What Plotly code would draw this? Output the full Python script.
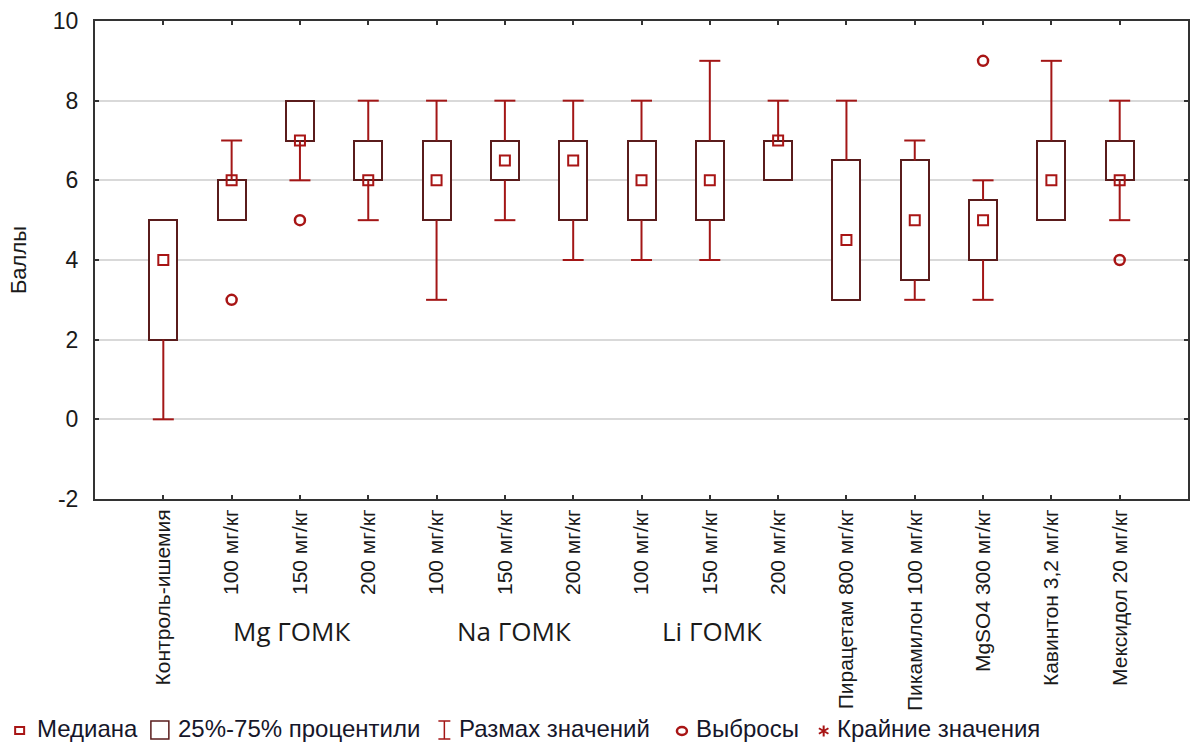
import plotly.graph_objects as go

# Groups on the x axis
categories = [
    "Контроль-ишемия",
    "100 мг/кг", "150 мг/кг", "200 мг/кг",
    "100 мг/кг", "150 мг/кг", "200 мг/кг",
    "100 мг/кг", "150 мг/кг", "200 мг/кг",
    "Пирацетам 800 мг/кг",
    "Пикамилон 100 мг/кг",
    "MgSO4 300 мг/кг",
    "Кавинтон 3,2 мг/кг",
    "Мексидол 20 мг/кг",
]
group_labels = ["Mg ГОМК", "Na ГОМК", "Li ГОМК"]
group_label_x = [1.88, 5.14, 8.03]

y_tickvals = [-2, 0, 2, 4, 6, 8, 10]
y_ticktext = ["-2", "0", "2", "4", "6", "8", "10"]

# Box statistics (scores)
q1 = [2, 5, 7, 6, 5, 6, 5, 5, 5, 6, 3, 3.5, 4, 5, 6]
median = [4, 6, 7, 6, 6, 6.5, 6.5, 6, 6, 7, 4.5, 5, 5, 6, 6]
q3 = [5, 6, 8, 7, 7, 7, 7, 7, 7, 7, 6.5, 6.5, 5.5, 7, 7]
range_min = [0, 5, 6, 5, 3, 5, 4, 4, 4, 6, 3, 3, 3, 5, 5]
range_max = [5, 7, 8, 8, 8, 8, 8, 8, 9, 8, 8, 7, 6, 9, 8]

# Outliers
outlier_x = [1, 2, 12, 14]
outlier_y = [3, 5, 9, 4]

WHISKER = "#a31616"
BOX = "#5a1c1c"
MARK = "#a81515"
TEXT = "#1a1a1a"
FONT = "Liberation Sans, Arial, sans-serif"

xs = list(range(len(categories)))

# Whisker segments and their end caps
wx, wy, cx, cy = [], [], [], []
for i in xs:
    if range_max[i] > q3[i]:
        wx += [i, i, None]
        wy += [q3[i], range_max[i], None]
        cx.append(i)
        cy.append(range_max[i])
    if range_min[i] < q1[i]:
        wx += [i, i, None]
        wy += [q1[i], range_min[i], None]
        cx.append(i)
        cy.append(range_min[i])

fig = go.Figure()

fig.add_trace(go.Scatter(
    x=wx, y=wy, mode="lines",
    line=dict(color=WHISKER, width=2),
    hoverinfo="skip", showlegend=False,
))
fig.add_trace(go.Scatter(
    x=cx, y=cy, mode="markers",
    marker=dict(symbol="line-ew", size=15, line=dict(color=WHISKER, width=2)),
    hoverinfo="skip", showlegend=False,
))
fig.add_trace(go.Bar(
    x=xs, y=[b - a for a, b in zip(q1, q3)], base=q1,
    width=0.41,
    marker=dict(color="rgba(255,255,255,1)", line=dict(color=BOX, width=2)),
    showlegend=False,
))
fig.add_trace(go.Scatter(
    x=xs, y=median, mode="markers",
    marker=dict(symbol="square-open", size=10, color=MARK, line=dict(width=2)),
    showlegend=False,
))
fig.add_trace(go.Scatter(
    x=outlier_x, y=outlier_y, mode="markers",
    marker=dict(symbol="circle-open", size=10, color=MARK, line=dict(width=2.5)),
    showlegend=False,
))

W, H = 1192, 743
L, R, T, B = 95, 2, 21, 244
pw, ph = W - L - R, H - T - B


def px(x):
    return (x - L) / pw


def py(y):
    return (H - B - y) / ph


annotations = []
for lbl, gx in zip(group_labels, group_label_x):
    annotations.append(dict(
        x=gx, y=py(631), xref="x", yref="paper", text=lbl, showarrow=False,
        xanchor="center", yanchor="middle",
        font=dict(family="Open Sans, Noto Sans, sans-serif", size=26, color=TEXT),
    ))

# Key along the bottom edge
legend_items = [(36, "Медиана"), (177, "25%-75% процентили"), (459, "Размах значений"),
                (696, "Выбросы"), (837, "Крайние значения")]
for lx, txt in legend_items:
    annotations.append(dict(
        x=px(lx), y=py(743), xref="paper", yref="paper", text=txt,
        showarrow=False, xanchor="left", yanchor="bottom", borderpad=0,
        font=dict(family=FONT, size=24, color="#16162a"),
    ))


def asterisk(cxp, cyp, r):
    segs = []
    for dx, dy in [(0, r), (r * 0.87, r * 0.5), (r * 0.87, -r * 0.5)]:
        segs.append(f"M {px(cxp - dx)},{py(cyp - dy)} L {px(cxp + dx)},{py(cyp + dy)}")
    return " ".join(segs)


shapes = [
    # median symbol
    dict(type="rect", xref="paper", yref="paper",
         x0=px(15), x1=px(24), y0=py(734), y1=py(727),
         line=dict(color=MARK, width=2)),
    # box symbol
    dict(type="rect", xref="paper", yref="paper",
         x0=px(151), x1=px(169), y0=py(739), y1=py(721),
         line=dict(color=BOX, width=1.5)),
    # range symbol
    dict(type="path", xref="paper", yref="paper",
         path=f"M {px(439)},{py(721)} L {px(451)},{py(721)} M {px(445)},{py(721)} "
              f"L {px(445)},{py(739)} M {px(439)},{py(739)} L {px(451)},{py(739)}",
         line=dict(color=WHISKER, width=1.5)),
    # outlier symbol
    dict(type="circle", xref="paper", yref="paper",
         x0=px(678), x1=px(688), y0=py(735), y1=py(727),
         line=dict(color=MARK, width=2.5)),
    # extreme-value symbol
    dict(type="path", xref="paper", yref="paper",
         path=asterisk(825, 731, 5.5),
         line=dict(color=MARK, width=2)),
]

fig.update_layout(
    width=W, height=H,
    margin=dict(l=L, r=R, t=T, b=B, pad=0),
    paper_bgcolor="white", plot_bgcolor="white",
    font=dict(family=FONT, size=20, color=TEXT),
    annotations=annotations,
    shapes=shapes,
    bargap=0,
)
fig.update_xaxes(
    range=[-1, 15],
    tickmode="array", tickvals=xs, ticktext=categories,
    tickangle=-90, tickfont=dict(family=FONT, size=21, color=TEXT),
    showgrid=False, zeroline=False,
    showline=True, linecolor="#333333", linewidth=2, mirror="ticks",
    ticks="inside", ticklen=4, tickcolor="#333333", tickwidth=1.5,
)
fig.update_yaxes(
    range=[-2, 10],
    tickmode="array", tickvals=y_tickvals, ticktext=y_ticktext,
    showgrid=True, gridcolor="#d9d9d9", gridwidth=1.5, zeroline=False,
    showline=True, linecolor="#333333", linewidth=2, mirror="ticks",
    ticks="inside", ticklen=4, tickcolor="#333333", tickwidth=1.5,
    tickfont=dict(family=FONT, size=23, color=TEXT),
    ticklabelstandoff=10,
    title=dict(text="Баллы", font=dict(family=FONT, size=22, color=TEXT), standoff=20),
)

fig.write_html("out.html")
